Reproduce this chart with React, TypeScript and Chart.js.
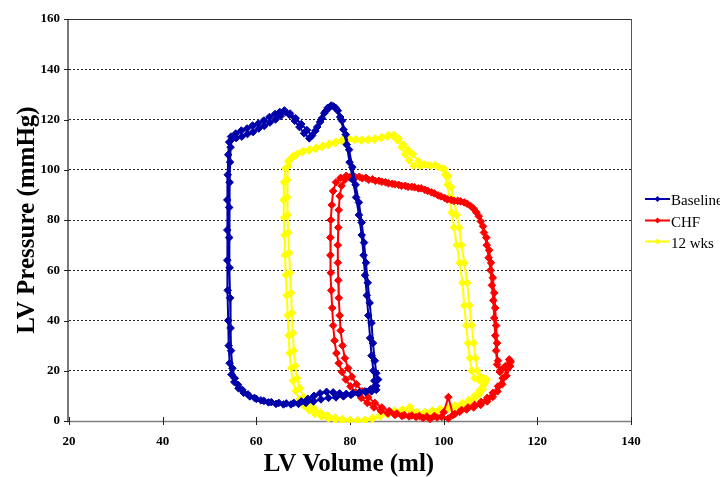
import { useEffect, useRef } from 'react';
import { Chart, registerables } from 'chart.js';

Chart.register(...registerables);

const seriesNames = ['Baseline', 'CHF', '12 wks'];
const seriesColors = ['#0000AA', '#FF0000', '#FFFF00'];
const xTickValues = [20, 40, 60, 80, 100, 120, 140];
const yTickValues = [0, 20, 40, 60, 80, 100, 120, 140, 160];
const xTitle = 'LV Volume (ml)';
const yTitle = 'LV Pressure (mmHg)';

// [volume (ml), pressure (mmHg)] — two consecutive cardiac cycles per series
const baselinePV: [number, number][] = [
  [85.6, 12.4], [85.2, 16], [85.0, 20], [84.6, 26], [84.3, 33], [83.9, 42], [83.6, 50], [83.2, 58],
  [82.9, 66], [82.5, 74], [81.9, 82], [81.3, 89], [80.6, 96], [79.9, 103], [79.3, 110], [78.6, 116],
  [77.9, 121], [77.0, 124.5], [76.0, 125.6], [75.2, 124.6], [74.5, 122.5], [73.6, 119], [72.6, 115.5],
  [71.3, 112.5], [70.2, 114.5], [69.2, 117], [68.2, 119.5], [67.1, 121.8], [66.0, 123.6], [65.0, 123.0],
  [64.0, 122.2], [62.8, 121.0], [61.6, 119.6], [60.4, 118.4], [59.2, 117.6], [58.0, 116.4], [56.8, 115.6],
  [55.6, 114.4], [54.6, 113.2], [54.2, 111], [54.0, 106], [53.9, 98], [53.8, 88], [53.8, 76], [53.8, 64],
  [53.9, 52], [54.0, 40], [54.1, 30], [54.3, 23], [54.7, 18.5], [55.3, 15.5], [56.2, 13], [57.3, 11.2],
  [58.6, 9.8], [60.0, 8.8], [61.6, 8.0], [63.2, 7.5], [64.8, 7.2], [66.4, 7.0], [68.0, 7.2], [69.6, 7.8],
  [71.0, 8.8], [72.3, 10.0], [73.6, 11.0], [75.0, 11.6], [76.4, 11.4], [77.8, 11.0], [79.2, 10.8],
  [80.6, 11.0], [82.0, 11.4], [83.4, 11.6], [84.6, 11.8], [85.6, 14.0],
  [86.0, 16.5], [85.6, 19], [85.3, 24], [84.9, 31], [84.6, 39], [84.2, 47], [83.8, 55], [83.4, 63],
  [83.0, 71], [82.5, 79], [81.9, 87], [81.2, 94], [80.5, 101], [79.8, 108], [79.1, 114], [78.3, 119.5],
  [77.4, 123.5], [76.5, 125.2], [75.6, 124.8], [74.8, 123.3], [74.0, 120.5], [73.0, 117], [71.9, 113.6],
  [70.8, 115.8], [69.6, 118.2], [68.4, 120.5], [67.2, 122.4], [66.2, 123.0], [65.2, 121.4], [64.1, 120.0],
  [62.9, 118.8], [61.7, 117.4], [60.5, 116.4], [59.3, 115.0], [58.1, 114.2], [56.9, 113.2], [55.7, 112.6],
  [54.8, 112.2], [54.5, 109], [54.4, 103], [54.3, 95], [54.2, 85], [54.2, 73], [54.3, 61], [54.4, 49],
  [54.5, 37], [54.6, 28], [54.9, 21], [55.4, 17], [56.1, 14.4], [57.0, 12.4], [58.2, 10.6], [59.6, 9.2],
  [61.0, 8.2], [62.6, 7.4], [64.2, 6.8], [65.8, 6.6], [67.4, 6.6], [69.0, 6.8], [70.6, 7.2], [72.2, 7.8],
  [73.8, 8.6], [75.4, 9.2], [77.0, 9.4], [78.6, 9.8], [80.2, 10.4], [81.8, 11.0], [83.2, 11.8],
  [84.4, 12.6], [85.4, 14.0], [85.9, 16.5],
];

const chfPV: [number, number][] = [
  [114.3, 23.5], [113.2, 21.8], [112.1, 20.2], [111.4, 22.5], [111.2, 28], [111.0, 34], [110.8, 41],
  [110.6, 48], [110.3, 54], [110.0, 60], [109.6, 65], [109.2, 70], [108.6, 75], [107.9, 79.5], [107.0, 83],
  [105.8, 85.5], [104.4, 87], [103.0, 87.6], [101.6, 88.0], [100.2, 88.8], [98.8, 89.8], [97.4, 91.0],
  [96.0, 92.0], [94.6, 92.6], [93.2, 93.2], [91.8, 93.6], [90.4, 94.0], [89.0, 94.4], [87.6, 95.0],
  [86.2, 95.6], [84.8, 96.2], [83.4, 96.8], [82.0, 97.2], [80.6, 97.6], [79.2, 97.6], [78.0, 96.8],
  [77.0, 95.0], [76.4, 91.5], [76.1, 86], [75.9, 80], [75.8, 73], [75.8, 66], [75.9, 59], [76.0, 52],
  [76.2, 45], [76.4, 38], [76.7, 32], [77.1, 27], [77.6, 23], [78.3, 19.5], [79.1, 16.5], [80.1, 13.8],
  [81.2, 11.4], [82.4, 9.2], [83.7, 7.2], [85.1, 5.4], [86.6, 4.0], [88.1, 3.0], [89.6, 2.4], [91.1, 2.0],
  [92.6, 1.8], [94.1, 1.6], [95.6, 1.2], [97.1, 0.8], [98.6, 1.4], [100.0, 3.5], [101.0, 9.5], [102.0, 2.4],
  [103.4, 3.6], [104.9, 4.6], [106.4, 5.4], [107.9, 6.4], [109.3, 7.8], [110.5, 9.6], [111.5, 11.8],
  [112.5, 14.6], [113.4, 18], [114.2, 21.8],
  [114.0, 24.5], [113.0, 21.5], [112.0, 19.5], [111.6, 24], [111.4, 31], [111.2, 38], [111.0, 45],
  [110.8, 51], [110.5, 57], [110.1, 63], [109.7, 68], [109.1, 73], [108.4, 77.5], [107.5, 81.5],
  [106.4, 84.5], [105.0, 86.5], [103.6, 87.4], [102.2, 87.6], [100.8, 88.2], [99.4, 89.4], [98.0, 90.6],
  [96.6, 91.6], [95.2, 92.6], [93.8, 93.0], [92.4, 93.2], [91.0, 93.6], [89.6, 94.2], [88.2, 94.6],
  [86.8, 95.2], [85.4, 95.6], [84.0, 96.0], [82.6, 96.6], [81.2, 97.0], [79.9, 97.0], [78.9, 96.0],
  [78.2, 93.6], [77.8, 89.5], [77.6, 84], [77.5, 77], [77.4, 70], [77.4, 63], [77.5, 56], [77.6, 49],
  [77.8, 42], [78.0, 36], [78.4, 30], [78.9, 25], [79.6, 21], [80.4, 17.6], [81.4, 14.6], [82.6, 11.8],
  [83.9, 9.4], [85.3, 7.2], [86.8, 5.4], [88.4, 4.0], [90.0, 3.0], [91.6, 2.4], [93.2, 2.2], [94.8, 2.0],
  [96.4, 1.8], [98.0, 2.0], [99.6, 1.6], [101.0, 1.0], [102.4, 2.8], [103.8, 4.4], [105.2, 5.4],
  [106.6, 6.4], [108.0, 7.6], [109.3, 9.2], [110.5, 11.2], [111.6, 13.8], [112.6, 17], [113.5, 20.5],
  [114.2, 24],
];

const wks12PV: [number, number][] = [
  [108.8, 15.0], [107.6, 16.2], [106.6, 17.0], [106.0, 20], [105.6, 25], [105.2, 31], [104.8, 38],
  [104.4, 46], [104.0, 55], [103.4, 63], [102.8, 70], [102.2, 77], [101.7, 83], [101.2, 89], [100.8, 94],
  [100.3, 98], [99.6, 100.6], [98.2, 101.9], [96.6, 101.9], [95.0, 101.4], [93.6, 101.6], [92.6, 103.8],
  [91.8, 106.2], [91.0, 109.0], [90.1, 111.8], [89.1, 113.6], [88.0, 113.2], [86.6, 112.6], [85.2, 112.0],
  [83.8, 111.8], [82.4, 111.6], [81.0, 111.8], [79.6, 111.8], [78.2, 111.4], [76.8, 110.6], [75.4, 109.8],
  [74.0, 109.0], [72.6, 108.2], [71.2, 107.6], [69.8, 107.0], [68.6, 106.0], [67.6, 104.6], [66.8, 103.2],
  [66.2, 100.5], [65.9, 95], [65.8, 88], [65.9, 81], [66.0, 74], [66.1, 66], [66.3, 58], [66.5, 50],
  [66.7, 42], [66.9, 34], [67.1, 27], [67.4, 21], [67.8, 16], [68.4, 12], [69.2, 8.6], [70.2, 6],
  [71.3, 4.2], [72.5, 2.8], [73.9, 1.8], [75.4, 1.0], [76.9, 0.5], [78.4, 0.2], [80.0, 0.2], [81.6, 0.1],
  [83.2, 0.2], [84.8, 0.8], [86.4, 1.8], [88.0, 2.6], [89.6, 3.2], [91.2, 3.8], [92.8, 5.6], [94.2, 3.6],
  [95.6, 2.8], [97.0, 2.8], [98.4, 3.4], [99.8, 4.0], [101.2, 4.8], [102.6, 5.6], [104.0, 6.4],
  [105.4, 7.4], [106.6, 8.8], [107.6, 10.6], [108.4, 12.6],
  [109.2, 16.5], [108.4, 17.2], [107.8, 17.6], [107.2, 20], [106.8, 25], [106.4, 31], [106.0, 38],
  [105.5, 46], [105.0, 55], [104.4, 63], [103.8, 70], [103.3, 77], [102.8, 82], [102.2, 88], [101.6, 93],
  [101.0, 97.5], [100.2, 100.2], [98.8, 101.2], [97.2, 101.6], [95.8, 102.2], [94.6, 103.4], [93.4, 106.2],
  [92.4, 108.0], [91.4, 110.0], [90.4, 112.4], [89.4, 113.8], [88.2, 113.8], [86.8, 113.0], [85.4, 112.4],
  [84.0, 112.2], [82.6, 112.0], [81.2, 112.2], [79.8, 112.4], [78.4, 112.0], [77.0, 111.2], [75.6, 110.4],
  [74.2, 109.6], [72.8, 108.8], [71.4, 108.0], [70.0, 107.4], [68.8, 106.4], [67.8, 105.4], [67.1, 104.0],
  [66.8, 101.5], [66.6, 96], [66.6, 89], [66.7, 82], [66.8, 75], [67.0, 67], [67.2, 59], [67.4, 51],
  [67.6, 43], [67.8, 35], [68.0, 28], [68.3, 22], [68.7, 17], [69.3, 13], [70.1, 9.6], [71.1, 7.0],
  [72.3, 5.0], [73.7, 3.4], [75.2, 2.2], [76.8, 1.4], [78.4, 0.8], [80.0, 0.4], [81.6, 0.3], [83.2, 0.5],
  [84.8, 1.2], [86.4, 2.2], [88.0, 3.2], [89.6, 4.2], [91.2, 4.6], [92.8, 4.0], [94.4, 3.4], [96.0, 3.6],
  [97.6, 4.2], [99.2, 4.8], [100.8, 5.4], [102.4, 6.2], [104.0, 7.2], [105.4, 8.4], [106.6, 10.0],
  [107.6, 12.0], [108.4, 14.0], [109.0, 16.0],
];

const seriesData = [baselinePV, chfPV, wks12PV];
const FONT = '"Liberation Serif", "Times New Roman", serif';

const decorPlugin = {
  id: 'decor',
  beforeDatasetsDraw(chart: any) {
    const { ctx, chartArea } = chart;
    const { left, right, top, bottom } = chartArea;
    const xs = chart.scales.x;
    const ys = chart.scales.y;
    ctx.save();
    ctx.lineWidth = 1;
    // frame top & right
    ctx.strokeStyle = '#333333';
    ctx.beginPath();
    ctx.moveTo(left, top + 0.5);
    ctx.lineTo(right + 0.5, top + 0.5);
    ctx.stroke();
    ctx.strokeStyle = '#555555';
    ctx.beginPath();
    ctx.moveTo(right + 0.5, top);
    ctx.lineTo(right + 0.5, bottom);
    ctx.stroke();
    // left axis
    ctx.strokeStyle = '#7a7a7a';
    ctx.lineWidth = 2;
    ctx.beginPath();
    ctx.moveTo(left - 1, top);
    ctx.lineTo(left - 1, bottom + 1);
    ctx.stroke();
    // bottom axis
    ctx.strokeStyle = '#808080';
    ctx.lineWidth = 1.5;
    ctx.beginPath();
    ctx.moveTo(left - 2, bottom + 0.5);
    ctx.lineTo(right + 1, bottom + 0.5);
    ctx.stroke();
    // tick marks
    ctx.lineWidth = 1;
    ctx.strokeStyle = '#222222';
    for (const v of yTickValues) {
      const py = Math.round(ys.getPixelForValue(v)) + 0.5;
      ctx.beginPath();
      ctx.moveTo(left - 5, py);
      ctx.lineTo(left, py);
      ctx.stroke();
    }
    for (const v of xTickValues) {
      const px = Math.round(xs.getPixelForValue(v)) + 0.5;
      ctx.beginPath();
      ctx.moveTo(px, bottom - 4);
      ctx.lineTo(px, bottom + 4);
      ctx.stroke();
    }
    ctx.restore();
  },
  afterDraw(chart: any) {
    const { ctx } = chart;
    ctx.save();
    ctx.fillStyle = '#000';
    ctx.font = `bold 25px ${FONT}`;
    ctx.textAlign = 'center';
    ctx.textBaseline = 'alphabetic';
    ctx.fillText(xTitle, 349, 471);
    ctx.save();
    ctx.translate(34, 220);
    ctx.rotate(-Math.PI / 2);
    ctx.fillText(yTitle, 0, 0);
    ctx.restore();
    // legend
    const rows = [199, 220.5, 241.5];
    seriesNames.forEach((name, i) => {
      const ly = rows[i];
      ctx.strokeStyle = seriesColors[i];
      ctx.fillStyle = seriesColors[i];
      ctx.lineWidth = 2;
      ctx.beginPath();
      ctx.moveTo(645, ly);
      ctx.lineTo(670, ly);
      ctx.stroke();
      const cx = 657.5;
      const r = 3;
      ctx.beginPath();
      ctx.moveTo(cx, ly - r);
      ctx.lineTo(cx + r, ly);
      ctx.lineTo(cx, ly + r);
      ctx.lineTo(cx - r, ly);
      ctx.closePath();
      ctx.fill();
      ctx.fillStyle = '#000';
      ctx.font = `15px ${FONT}`;
      ctx.textAlign = 'left';
      ctx.textBaseline = 'alphabetic';
      ctx.fillText(name, 671, ly + 6);
    });
    ctx.restore();
  },
};

export default function App() {
  const canvasRef = useRef<HTMLCanvasElement | null>(null);

  useEffect(() => {
    document.body.style.margin = '0';
    const canvas = canvasRef.current;
    if (!canvas) return;
    const chart = new Chart(canvas, {
      type: 'scatter',
      data: {
        datasets: seriesData.map((pts, i) => ({
          label: seriesNames[i],
          data: pts.map(([v, p]) => ({ x: v, y: p })),
          showLine: true,
          borderColor: seriesColors[i],
          backgroundColor: seriesColors[i],
          borderWidth: 2,
          pointStyle: 'rectRot',
          pointRadius: 3.8,
          pointBorderWidth: 1,
          pointBorderColor: seriesColors[i],
          pointBackgroundColor: seriesColors[i],
          tension: 0,
          clip: { left: 5, top: 5, right: 5, bottom: 2 },
        })),
      },
      options: {
        animation: false,
        responsive: false,
        events: [],
        layout: { padding: { left: 0, top: 19, right: 89, bottom: 0 } },
        plugins: {
          legend: { display: false },
          tooltip: { enabled: false },
        },
        scales: {
          x: {
            type: 'linear',
            min: 20,
            max: 140,
            afterFit: (s: any) => { s.height = 56; },
            ticks: {
              stepSize: 20,
              padding: 13,
              color: '#000',
              font: { family: FONT, size: 13, weight: 'bold' },
            },
            grid: { display: false, drawTicks: false },
            border: { display: false },
          },
          y: {
            type: 'linear',
            min: 0,
            max: 160,
            afterFit: (s: any) => { s.width = 69; },
            ticks: {
              stepSize: 20,
              padding: 9,
              color: '#000',
              font: { family: FONT, size: 13, weight: 'bold' },
            },
            grid: {
              drawTicks: false,
              lineWidth: 1,
              color: (c: any) => (c.tick && (c.tick.value === 0 || c.tick.value === 160) ? 'rgba(0,0,0,0)' : '#222222'),
            },
            border: { display: false, dash: [2, 2] },
          },
        },
      },
      plugins: [decorPlugin],
    });
    return () => chart.destroy();
  }, []);

  return (
    <div style={{ position: 'absolute', left: 0, top: 0, width: 720, height: 477, background: '#fff' }}>
      <canvas ref={canvasRef} width={720} height={477} style={{ display: 'block' }} />
    </div>
  );
}
